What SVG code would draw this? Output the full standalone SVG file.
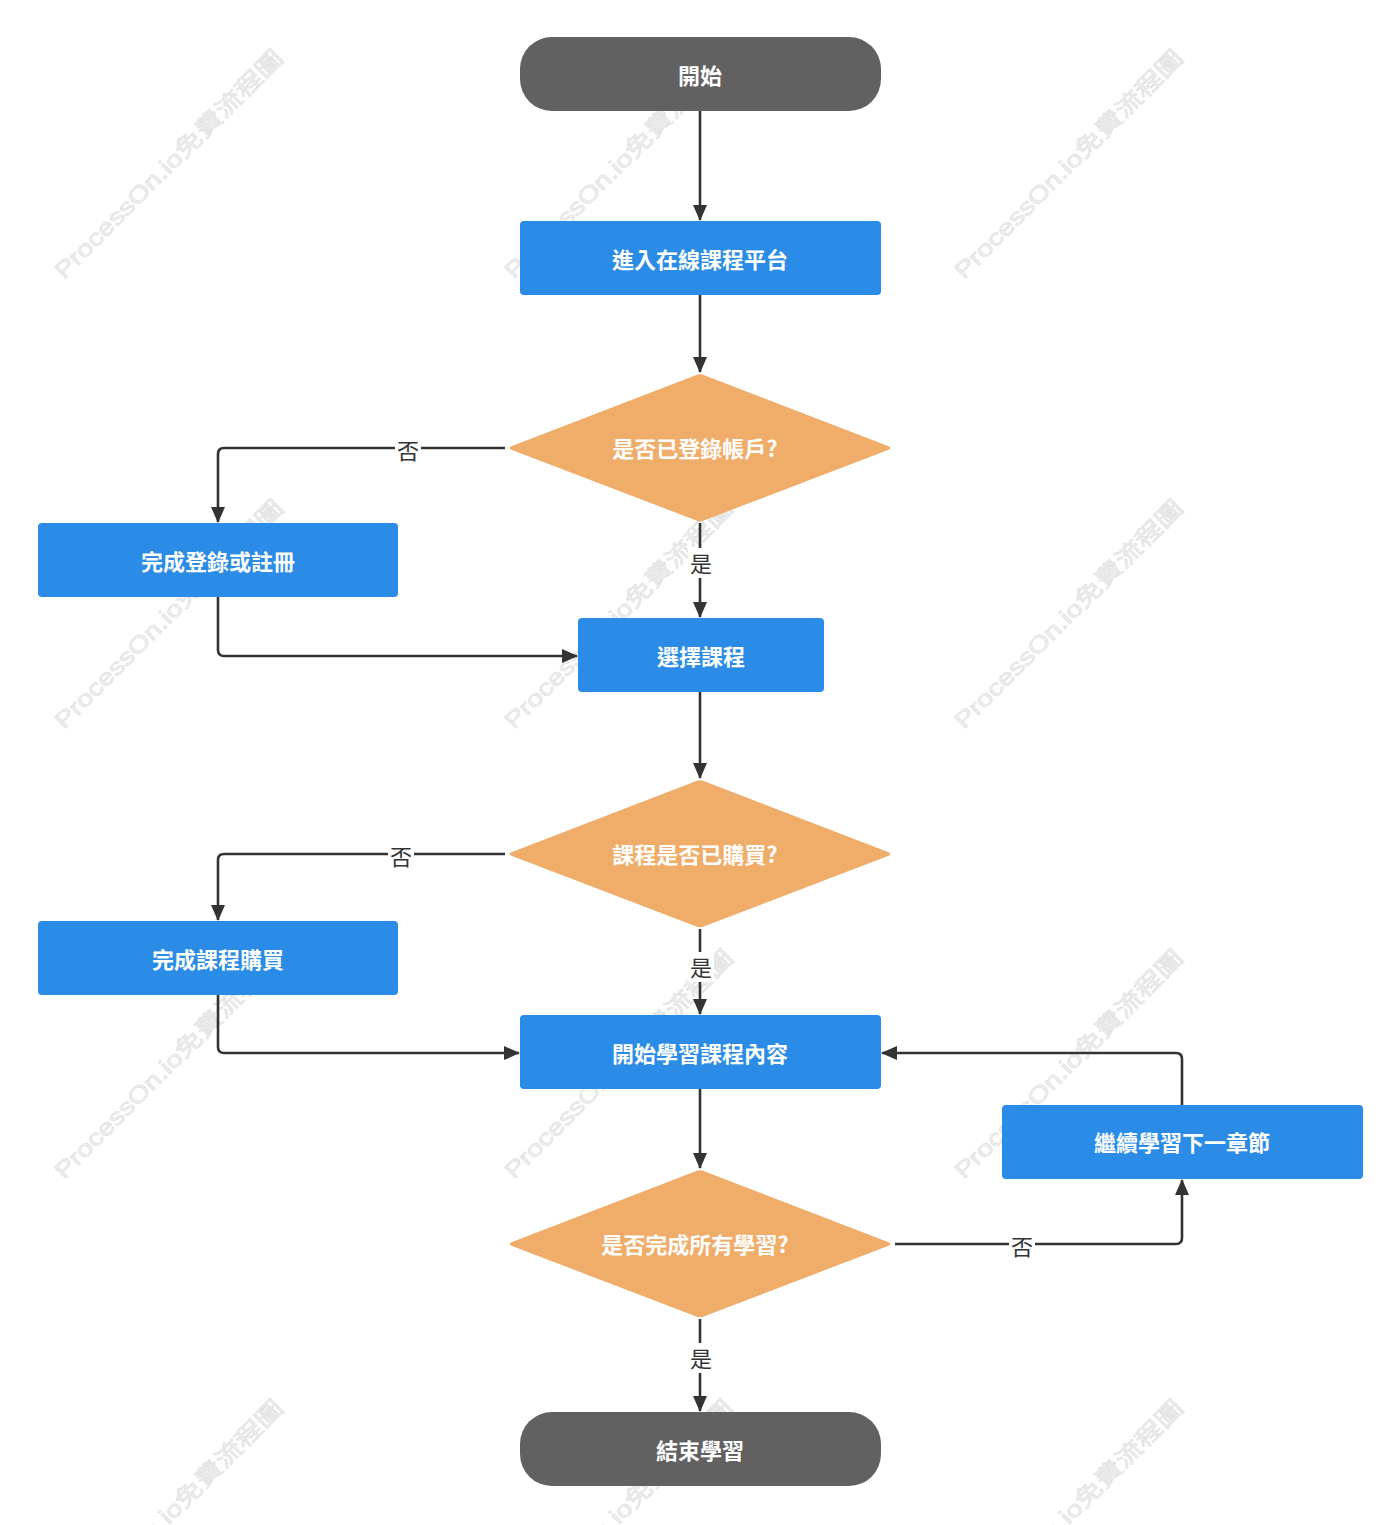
<svg xmlns="http://www.w3.org/2000/svg" width="1400" height="1525" viewBox="0 0 1400 1525">
<defs>
<style>
.wm{font-family:"Liberation Sans","Noto Sans CJK TC",sans-serif;font-size:23px;fill:#f0f0f0;stroke:#dedede;stroke-width:0.6}
.term{fill:#616161}
.box{fill:#2a8ce6}
.dia{fill:#f0ad6a}
.nt{font-family:"Noto Sans CJK TC","Noto Sans",sans-serif;font-size:22px;font-weight:bold;fill:#ffffff;text-anchor:middle;dominant-baseline:central}
.lbl{font-family:"Noto Sans CJK TC","Noto Sans",sans-serif;font-size:22px;fill:#333333;text-anchor:middle;dominant-baseline:central}
.ln{fill:none;stroke:#333333;stroke-width:2.6;stroke-linejoin:round}
</style>
<marker id="ah" markerWidth="16" markerHeight="16" viewBox="0 0 16 16" refX="15" refY="8" orient="auto" markerUnits="userSpaceOnUse">
<path d="M0,1 L16,8 L0,15 Z" fill="#333333"/>
</marker>
</defs>
<rect width="1400" height="1525" fill="#ffffff"/>
<g id="watermarks">
<text class="wm" transform="translate(64,280) rotate(-45)" textLength="312" lengthAdjust="spacingAndGlyphs">ProcessOn.io免費流程圖</text>
<text class="wm" transform="translate(514,280) rotate(-45)" textLength="312" lengthAdjust="spacingAndGlyphs">ProcessOn.io免費流程圖</text>
<text class="wm" transform="translate(964,280) rotate(-45)" textLength="312" lengthAdjust="spacingAndGlyphs">ProcessOn.io免費流程圖</text>
<text class="wm" transform="translate(64,730) rotate(-45)" textLength="312" lengthAdjust="spacingAndGlyphs">ProcessOn.io免費流程圖</text>
<text class="wm" transform="translate(514,730) rotate(-45)" textLength="312" lengthAdjust="spacingAndGlyphs">ProcessOn.io免費流程圖</text>
<text class="wm" transform="translate(964,730) rotate(-45)" textLength="312" lengthAdjust="spacingAndGlyphs">ProcessOn.io免費流程圖</text>
<text class="wm" transform="translate(64,1180) rotate(-45)" textLength="312" lengthAdjust="spacingAndGlyphs">ProcessOn.io免費流程圖</text>
<text class="wm" transform="translate(514,1180) rotate(-45)" textLength="312" lengthAdjust="spacingAndGlyphs">ProcessOn.io免費流程圖</text>
<text class="wm" transform="translate(964,1180) rotate(-45)" textLength="312" lengthAdjust="spacingAndGlyphs">ProcessOn.io免費流程圖</text>
<text class="wm" transform="translate(64,1630) rotate(-45)" textLength="312" lengthAdjust="spacingAndGlyphs">ProcessOn.io免費流程圖</text>
<text class="wm" transform="translate(514,1630) rotate(-45)" textLength="312" lengthAdjust="spacingAndGlyphs">ProcessOn.io免費流程圖</text>
<text class="wm" transform="translate(964,1630) rotate(-45)" textLength="312" lengthAdjust="spacingAndGlyphs">ProcessOn.io免費流程圖</text>
</g>
<g id="connectors">
<path class="ln" d="M700,111 L700,220" marker-end="url(#ah)"/>
<path class="ln" d="M700,295 L700,372" marker-end="url(#ah)"/>
<path class="ln" d="M505,448 L224,448 Q218,448 218,454 L218,522" marker-end="url(#ah)"/>
<path class="ln" d="M700,523 L700,617" marker-end="url(#ah)"/>
<path class="ln" d="M218,597 L218,650 Q218,656 224,656 L577,656" marker-end="url(#ah)"/>
<path class="ln" d="M700,692 L700,778" marker-end="url(#ah)"/>
<path class="ln" d="M505,854 L224,854 Q218,854 218,860 L218,920" marker-end="url(#ah)"/>
<path class="ln" d="M700,929 L700,1014" marker-end="url(#ah)"/>
<path class="ln" d="M218,995 L218,1047 Q218,1053 224,1053 L519,1053" marker-end="url(#ah)"/>
<path class="ln" d="M700,1089 L700,1168" marker-end="url(#ah)"/>
<path class="ln" d="M895,1244 L1176,1244 Q1182,1244 1182,1238 L1182,1180" marker-end="url(#ah)"/>
<path class="ln" d="M1182,1105 L1182,1059 Q1182,1053 1176,1053 L882,1053" marker-end="url(#ah)"/>
<path class="ln" d="M700,1319 L700,1411" marker-end="url(#ah)"/>
<rect x="395" y="436" width="26" height="28" fill="#ffffff"/>
<text class="lbl" x="408" y="449">否</text>
<rect x="688" y="548" width="26" height="30" fill="#ffffff"/>
<text class="lbl" x="701" y="562">是</text>
<rect x="388" y="842" width="26" height="28" fill="#ffffff"/>
<text class="lbl" x="401" y="855">否</text>
<rect x="688" y="952" width="26" height="30" fill="#ffffff"/>
<text class="lbl" x="701" y="966">是</text>
<rect x="1009" y="1232" width="26" height="28" fill="#ffffff"/>
<text class="lbl" x="1022" y="1245">否</text>
<rect x="688" y="1343" width="26" height="30" fill="#ffffff"/>
<text class="lbl" x="701" y="1357">是</text>
</g>
<g id="start">
<rect class="term" x="520" y="37" width="361" height="74" rx="32"/>
<text class="nt" x="700" y="74">開始</text>
</g>
<g id="enter-platform">
<rect class="box" x="520" y="221" width="361" height="74" rx="4"/>
<text class="nt" x="700" y="258">進入在線課程平台</text>
</g>
<g id="decision-login">
<path class="dia" d="M695,375.5 Q700,373 705,375.5 L888,446 Q893,448 888,450 L705,520 Q700,522.5 695,520 L512,450 Q507,448 512,446 Z"/>
<text class="nt" x="695" y="447">是否已登錄帳戶?</text>
</g>
<g id="register">
<rect class="box" x="38" y="523" width="360" height="74" rx="4"/>
<text class="nt" x="218" y="560">完成登錄或註冊</text>
</g>
<g id="choose-course">
<rect class="box" x="578" y="618" width="246" height="74" rx="4"/>
<text class="nt" x="701" y="655">選擇課程</text>
</g>
<g id="decision-purchased">
<path class="dia" d="M695,781.5 Q700,779 705,781.5 L888,852 Q893,854 888,856 L705,926 Q700,928.5 695,926 L512,856 Q507,854 512,852 Z"/>
<text class="nt" x="695" y="853">課程是否已購買?</text>
</g>
<g id="purchase">
<rect class="box" x="38" y="921" width="360" height="74" rx="4"/>
<text class="nt" x="218" y="958">完成課程購買</text>
</g>
<g id="start-learning">
<rect class="box" x="520" y="1015" width="361" height="74" rx="4"/>
<text class="nt" x="700" y="1052">開始學習課程內容</text>
</g>
<g id="next-chapter">
<rect class="box" x="1002" y="1105" width="361" height="74" rx="4"/>
<text class="nt" x="1182" y="1141">繼續學習下一章節</text>
</g>
<g id="decision-complete">
<path class="dia" d="M695,1171.5 Q700,1169 705,1171.5 L888,1242 Q893,1244 888,1246 L705,1316 Q700,1318.5 695,1316 L512,1246 Q507,1244 512,1242 Z"/>
<text class="nt" x="695" y="1243">是否完成所有學習?</text>
</g>
<g id="end">
<rect class="term" x="520" y="1412" width="361" height="74" rx="32"/>
<text class="nt" x="700" y="1449">結束學習</text>
</g>
</svg>
